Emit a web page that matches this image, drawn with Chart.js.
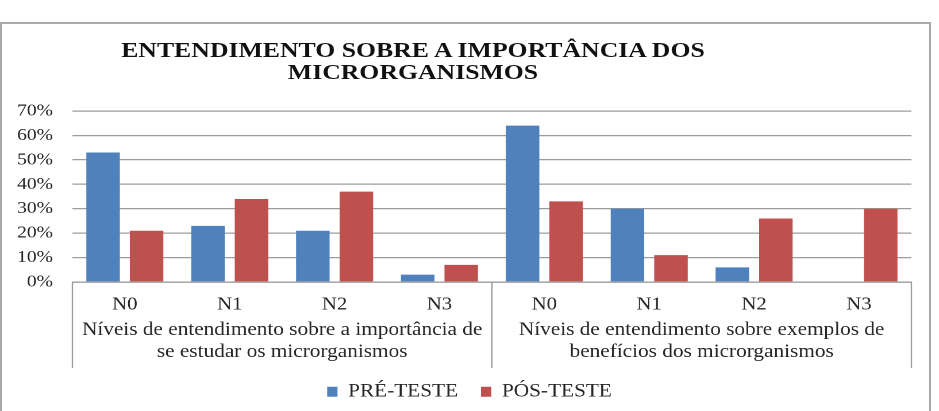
<!DOCTYPE html>
<html>
<head>
<meta charset="utf-8">
<script src="https://cdn.jsdelivr.net/npm/chart.js@4.4.1/dist/chart.umd.min.js"></script>
<style>
  html, body { margin: 0; padding: 0; background: #fff; }
  #wrap { position: relative; width: 939px; height: 411px; overflow: hidden; }
  #frame { position: absolute; left: 0; top: 22px; width: 931px; height: 420px; border: 2px solid #a9a9a9; box-sizing: border-box; }
  #title { position: absolute; left: 0; top: 39px; width: 826px; text-align: center;
           font: bold 22px "Liberation Serif", "Times New Roman", serif; line-height: 22px; color: #111;
           transform: scaleX(1.17); transform-origin: 413px 0; }
  canvas { position: absolute; left: 0; top: 0; transform: scaleX(1.1493); transform-origin: 0 0; }
</style>
</head>
<body>
<div id="wrap">
  <div id="frame"></div>
  <canvas id="c" width="817" height="411"></canvas>
  <div id="title">ENTENDIMENTO SOBRE A IMPORTÂNCIA DOS<br>MICRORGANISMOS</div>
</div>
<script>
const levels = ['N0', 'N1', 'N2', 'N3', 'N0', 'N1', 'N2', 'N3'];
const groups = [
  ['Níveis de entendimento sobre a importância de', 'se estudar os microrganismos'],
  ['Níveis de entendimento sobre exemplos de', 'benefícios dos microrganismos']
];
const preTeste = [53, 23, 21, 3, 64, 30, 6, 0];
const posTeste = [21, 34, 37, 7, 33, 11, 26, 30];
const yTicks = [0, 10, 20, 30, 40, 50, 60, 70];

const gridColor = '#9c9c9c';
const textColor = '#262626';
const serif = '"Liberation Serif", "Times New Roman", serif';

const separators = {
  id: 'separators',
  afterDraw(chart) {
    const x = chart.scales.x, ctx = chart.ctx;
    const mid = (x.getPixelForValue(3) + x.getPixelForValue(4)) / 2;
    const bottom = chart.chartArea.bottom + 86;
    ctx.save();
    ctx.strokeStyle = gridColor;
    ctx.lineWidth = 1.2;
    [x.left, mid, x.right].forEach(px => {
      ctx.beginPath();
      ctx.moveTo(px, chart.chartArea.bottom);
      ctx.lineTo(px, bottom);
      ctx.stroke();
    });
    ctx.restore();
  }
};

new Chart(document.getElementById('c'), {
  type: 'bar',
  data: {
    labels: levels,
    datasets: [
      { label: 'PRÉ-TESTE', data: preTeste, backgroundColor: '#4F81BD', xAxisID: 'x', yAxisID: 'y', barPercentage: 0.77, categoryPercentage: 0.83 },
      { label: 'PÓS-TESTE', data: posTeste, backgroundColor: '#C0504D', xAxisID: 'x', yAxisID: 'y', barPercentage: 0.77, categoryPercentage: 0.83 }
    ]
  },
  options: {
    responsive: false,
    animation: false,
    devicePixelRatio: 2,
    layout: { padding: { left: 0, right: 0, top: 111, bottom: 0 } },
    plugins: {
      title: { display: false },
      tooltip: { enabled: false },
      legend: {
        position: 'bottom',
        labels: {
          boxWidth: 9, boxHeight: 10, padding: 20,
          color: textColor,
          font: { family: serif, size: 18.5 }
        }
      }
    },
    scales: {
      y: {
        min: 0, max: 70,
        afterBuildTicks(scale) { scale.ticks = yTicks.map(v => ({ value: v })); },
        afterFit(scale) { scale.width = 63; },
        border: { display: false },
        grid: { color: gridColor, lineWidth: 1.3, drawTicks: false },
        ticks: {
          padding: 17, color: textColor,
          font: { family: serif, size: 17 },
          callback: v => v + '%'
        }
      },
      yRightSpace: {
        type: 'linear',
        position: 'right',
        afterFit(scale) { scale.width = 24; },
        border: { display: false },
        grid: { display: false, drawTicks: false },
        ticks: { display: false }
      },
      x: {
        type: 'category',
        position: 'bottom',
        afterFit(scale) { scale.height = 33; },
        border: { display: true, color: gridColor, width: 1.3 },
        grid: { display: false, drawTicks: false },
        ticks: { padding: 12, color: textColor, maxRotation: 0, autoSkip: false, font: { family: serif, size: 18 } }
      },
      x2: {
        type: 'category',
        position: 'bottom',
        labels: groups,
        offset: true,
        afterFit(scale) { scale.height = 47.5; },
        border: { display: false },
        grid: { display: false, drawTicks: false },
        ticks: { padding: 4, color: textColor, maxRotation: 0, autoSkip: false, font: { family: serif, size: 18.5 } }
      }
    }
  },
  plugins: [separators]
});
</script>
</body>
</html>
